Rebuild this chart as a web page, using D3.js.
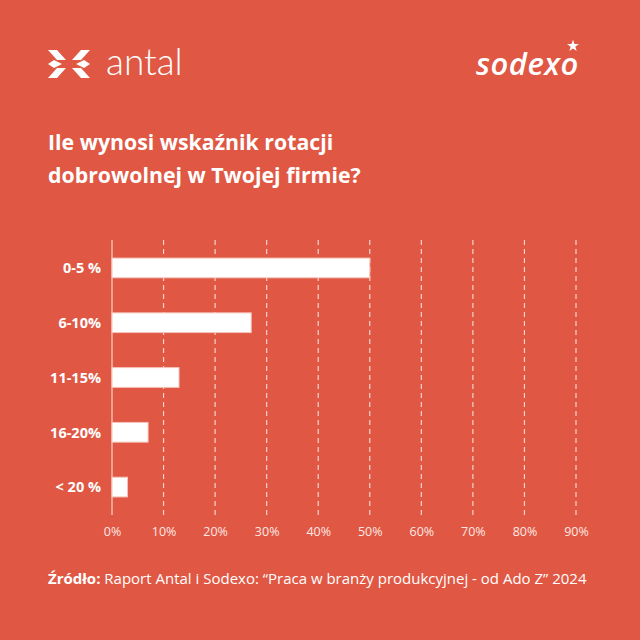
<!DOCTYPE html>
<html>
<head>
<meta charset="utf-8">
<script src="https://cdn.jsdelivr.net/npm/d3@7"></script>
<style>
body{margin:0;padding:0;background:#e05743;}
svg{display:block;}
</style>
</head>
<body>
<script>
var categories = ["0-5 %", "6-10%", "11-15%", "16-20%", "< 20 %"];
var values = [50, 27, 13, 7, 3];
var ticks = [0, 10, 20, 30, 40, 50, 60, 70, 80, 90];

function init(){
	var w = 640;
	var h = 640;
	var bg = "#e05743";
	var font = "'Open Sans', 'DejaVu Sans', sans-serif";

	var svg = d3.select("body")
		.append("svg")
		.attr("width", w)
		.attr("height", h);

	svg.append("rect")
		.attr("width", w)
		.attr("height", h)
		.attr("fill", bg);

	// antal logo
	var logo = svg.append("g").attr("fill", "#fff");
	var left = [
		[[48,50],[57,50],[66,60],[57,60]],
		[[48,64],[54,60],[62,64],[54,68]],
		[[48,78],[57,78],[66,68],[57,68]]
	];
	left.forEach(function(p){
		logo.append("polygon").attr("points", p.join(" "));
		logo.append("polygon").attr("points", p.map(function(q){ return [138 - q[0], q[1]]; }).join(" "));
	});
	svg.append("text")
		.attr("x", 106)
		.attr("y", 75)
		.attr("fill", "#fff")
		.style("font-family", "Lato, sans-serif")
		.style("font-weight", 300)
		.style("font-size", "37px")
		.text("antal");

	// sodexo logo
	svg.append("text")
		.attr("x", 476)
		.attr("y", 75)
		.attr("fill", "#fff")
		.style("font-family", font)
		.style("font-style", "italic")
		.style("font-weight", 600)
		.style("font-size", "31px")
		.style("letter-spacing", "0.5px")
		.text("sodexo");
	var star = d3.symbol().type(d3.symbolStar).size(45);
	svg.append("path")
		.attr("d", star())
		.attr("transform", "translate(573,46)")
		.attr("fill", "#fff");

	// title
	var title = ["Ile wynosi wskaźnik rotacji", "dobrowolnej w Twojej firmie?"];
	svg.selectAll(".title")
		.data(title)
		.enter()
		.append("text")
		.attr("class", "title")
		.attr("x", 48)
		.attr("y", function(d, i){ return 150 + i * 33; })
		.attr("fill", "#fff")
		.style("font-family", font)
		.style("font-weight", 700)
		.style("font-size", "21.3px")
		.text(function(d){ return d; });

	var xScale = d3.scaleLinear()
		.domain([0, 90])
		.range([112, 576]);

	var yScale = d3.scaleBand()
		.domain(categories)
		.range([240, 515])
		.paddingInner(0.64)
		.paddingOuter(0.33);

	// grid
	svg.selectAll(".grid")
		.data(ticks)
		.enter()
		.append("line")
		.attr("class", "grid")
		.attr("x1", function(d){ return xScale(d); })
		.attr("x2", function(d){ return xScale(d); })
		.attr("y1", 240)
		.attr("y2", 515)
		.attr("stroke", "#f6d3cc")
		.attr("stroke-width", 1.2)
		.attr("stroke-dasharray", function(d){ return d === 0 ? null : "5,4"; });

	// bars
	svg.selectAll(".bar")
		.data(values)
		.enter()
		.append("rect")
		.attr("class", "bar")
		.attr("x", xScale(0))
		.attr("y", function(d, i){ return yScale(categories[i]); })
		.attr("width", function(d){ return xScale(d) - xScale(0); })
		.attr("height", yScale.bandwidth())
		.attr("fill", "#fff")
		.attr("stroke", "#f4c4ba")
		.attr("stroke-width", 1);

	// category labels
	svg.selectAll(".cat")
		.data(categories)
		.enter()
		.append("text")
		.attr("class", "cat")
		.attr("x", 101)
		.attr("y", function(d){ return yScale(d) + yScale.bandwidth() / 2; })
		.attr("dy", "0.36em")
		.attr("text-anchor", "end")
		.attr("fill", "#fff")
		.style("font-family", font)
		.style("font-weight", 700)
		.style("font-size", "14.5px")
		.text(function(d){ return d; });

	// x axis
	var xAxis = d3.axisBottom(xScale)
		.tickValues(ticks)
		.tickSize(0)
		.tickPadding(0)
		.tickFormat(function(d){ return d + "%"; });

	var ax = svg.append("g")
		.attr("transform", "translate(0,527)")
		.call(xAxis);
	ax.select(".domain").remove();
	ax.selectAll("text")
		.attr("fill", "#fde8e3")
		.style("font-family", font)
		.style("font-size", "12.5px");

	// source
	var src = svg.append("text")
		.attr("x", 48)
		.attr("y", 584)
		.attr("fill", "#fff")
		.style("font-family", font)
		.style("font-size", "15px");
	src.append("tspan")
		.style("font-weight", 700)
		.text("Źródło:");
	src.append("tspan")
		.style("font-weight", 400)
		.text(" Raport Antal i Sodexo: \u201cPraca w branży produkcyjnej - od Ado Z\u201d 2024");
}

window.onload = init;
</script>
</body>
</html>
